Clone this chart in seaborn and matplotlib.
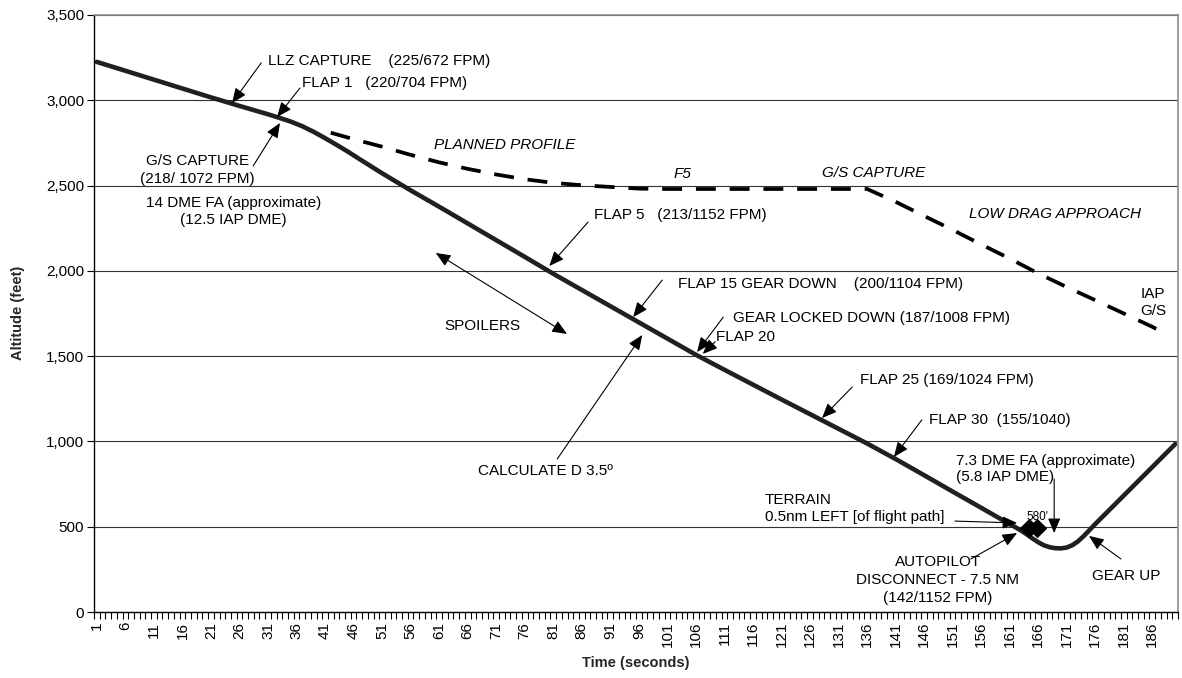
import numpy as np
import matplotlib
matplotlib.use("Agg")
import matplotlib.pyplot as plt
import matplotlib.ticker as mticker
import seaborn as sns

# flown profile (solid)
TIME_ACTUAL = [1, 6, 11, 16, 21, 26, 31, 33, 35, 37, 39, 41, 43, 45, 47, 49, 51, 56,
               61, 66, 71, 76, 81, 86, 91, 96, 101, 106, 111, 116, 121, 126, 131, 136,
               141, 146, 151, 156, 161, 162, 163, 164, 165, 166, 167, 168, 169, 170,
               171, 172, 173, 174, 175, 176, 181, 186, 190]
ALT_ACTUAL = [3225, 3173, 3121, 3069, 3017, 2967, 2918, 2897, 2875, 2848, 2815, 2778,
              2739, 2699, 2656, 2614, 2572, 2472, 2376, 2278, 2180, 2082, 1983, 1888,
              1793, 1698, 1603, 1508, 1420, 1333, 1246, 1160, 1074, 988, 897, 802,
              706, 611, 515, 497, 477, 455, 431, 409, 391, 380, 374, 373, 378, 392,
              415, 446, 481, 516, 683, 850, 984]

# planned profile (dashed)
TIME_PLANNED = [42, 46, 51, 56, 61, 66, 71, 76, 81, 86, 91, 96, 101, 106, 111, 116,
                121, 126, 131, 136, 141, 146, 151, 156, 161, 166, 171, 176, 181, 186, 188]
ALT_PLANNED = [2810, 2772, 2728, 2680, 2636, 2598, 2565, 2537, 2516, 2502, 2492, 2482,
               2480, 2480, 2480, 2480, 2480, 2480, 2480, 2480, 2405, 2322, 2240, 2155,
               2072, 1985, 1905, 1828, 1750, 1672, 1635]

# terrain markers
TIME_TERRAIN = [164.3, 165.8]
ALT_TERRAIN = [492, 495]

Y_TICKS = [0, 500, 1000, 1500, 2000, 2500, 3000, 3500]
X_TICK_LABELS = list(range(1, 190, 5))

sns.set_theme(style="white")
plt.rcParams["font.family"] = ["Liberation Sans", "DejaVu Sans"]

INK = "#231f20"
FS = 11

fig = plt.figure(figsize=(11.82, 6.78), dpi=100)
ax = fig.add_axes([94 / 1182, 66 / 678, 1084 / 1182, 597 / 678])

sns.lineplot(x=TIME_PLANNED, y=ALT_PLANNED, ax=ax, color="black", linewidth=2.7,
             linestyle=(0, (5.3, 3.7)), dash_capstyle="butt",
             estimator=None, sort=False)
sns.lineplot(x=TIME_ACTUAL, y=ALT_ACTUAL, ax=ax, color=INK, linewidth=3.3,
             estimator=None, sort=False, solid_joinstyle="round")
sns.scatterplot(x=TIME_TERRAIN, y=ALT_TERRAIN, ax=ax, marker="D", s=85,
                color="black", edgecolor="black", zorder=5)

ax.set_xlim(0.5, 190.5)
ax.set_ylim(0, 3500)
ax.set_yticks(Y_TICKS)
ax.yaxis.set_major_formatter(mticker.StrMethodFormatter("{x:,.0f}"))
ax.set_xticks(X_TICK_LABELS)
ax.set_xticklabels([str(v) for v in X_TICK_LABELS], rotation=90)
ax.set_xticks(np.arange(0.5, 191, 1), minor=True)
ax.tick_params(axis="x", which="major", length=0, pad=7, labelsize=FS, colors="black")
ax.tick_params(axis="x", which="minor", length=5, width=0.8, direction="out",
               color="black", bottom=True)
ax.tick_params(axis="y", which="major", length=5, width=0.8, direction="out",
               pad=2, labelsize=FS, colors="black", left=True)

ax.yaxis.grid(True, color="#333333", linewidth=0.8)
ax.xaxis.grid(False)
ax.set_axisbelow(True)
for side in ["left", "bottom"]:
    ax.spines[side].set_color("black")
    ax.spines[side].set_linewidth(1.0)
for side in ["top", "right"]:
    ax.spines[side].set_color("#8c8c8c")
    ax.spines[side].set_linewidth(1.2)
ax.set_xlabel("")
ax.set_ylabel("")

fig.text(18 / 1182, 1 - 313 / 678, "Altitude (feet)", rotation=90, ha="center",
         va="center", fontsize=10.5, fontweight="bold")
fig.text(636 / 1182, 1 - 663 / 678, "Time (seconds)", ha="center", va="center",
         fontsize=10.5, fontweight="bold")

head = "-|>,head_length=0.9,head_width=0.38"


def arrow(tip, start, style=head):
    ax.annotate("", xy=tip, xytext=start,
                arrowprops=dict(arrowstyle=style, mutation_scale=10, color="black",
                                lw=0.8, shrinkA=0, shrinkB=0))


def label(t, alt, s, ha="left", italic=False, size=FS, spacing=1.3):
    ax.text(t, alt, s, ha=ha, va="center", fontsize=size, color="black",
            fontstyle="italic" if italic else "normal", linespacing=spacing,
            multialignment=ha)


label(31.0, 3230, "LLZ CAPTURE    (225/672 FPM)")
arrow((24.7, 2984), (29.8, 3219))
label(36.9, 3101, "FLAP 1   (220/704 FPM)")
arrow((32.6, 2902), (36.6, 3072))
label(18.6, 2591, "G/S CAPTURE\n(218/ 1072 FPM)", ha="center")
arrow((33.1, 2867), (28.4, 2615))
label(25.0, 2348, "14 DME FA (approximate)\n(12.5 IAP DME)", ha="center")

label(72.4, 2738, "PLANNED PROFILE", ha="center", italic=True)
label(103.7, 2568, "F5", ha="center", italic=True)
label(137.2, 2574, "G/S CAPTURE", ha="center", italic=True)
label(169.0, 2333, "LOW DRAG APPROACH", ha="center", italic=True)
label(186.1, 1814, "IAP\nG/S", ha="center")

label(88.1, 2327, "FLAP 5   (213/1152 FPM)")
arrow((80.3, 2028), (87.1, 2286))
label(68.5, 1677, "SPOILERS", ha="center")
arrow((60.4, 2105), (83.4, 1630), style="<|-|>,head_length=0.9,head_width=0.38")
label(102.9, 1923, "FLAP 15 GEAR DOWN    (200/1104 FPM)")
arrow((95.0, 1729), (100.1, 1946))
label(112.5, 1724, "GEAR LOCKED DOWN (187/1008 FPM)")
arrow((106.2, 1524), (110.8, 1729))
label(109.5, 1612, "FLAP 20")
arrow((107.2, 1513), (109.4, 1585))
label(79.7, 827, "CALCULATE D 3.5º", ha="center")
arrow((96.6, 1624), (81.7, 897))
label(134.8, 1360, "FLAP 25 (169/1024 FPM)")
arrow((128.1, 1137), (133.4, 1319))
label(146.9, 1126, "FLAP 30  (155/1040)")
arrow((140.7, 909), (145.6, 1126))

label(151.6, 838, "7.3 DME FA (approximate)\n(5.8 IAP DME)", spacing=1.25)
arrow((168.8, 463), (168.8, 780))
label(165.8, 557, "580'", ha="center", size=8.5)
label(118.1, 607, "TERRAIN\n0.5nm LEFT [of flight path]", spacing=1.25)
arrow((162.3, 522), (151.4, 533))
label(148.4, 188, "AUTOPILOT\nDISCONNECT - 7.5 NM\n(142/1152 FPM)", ha="center",
      spacing=1.35)
arrow((162.3, 463), (154.2, 311))
label(181.4, 211, "GEAR UP", ha="center")
arrow((174.9, 446), (180.5, 311))

fig.savefig("out.png", dpi=100, facecolor="white")
